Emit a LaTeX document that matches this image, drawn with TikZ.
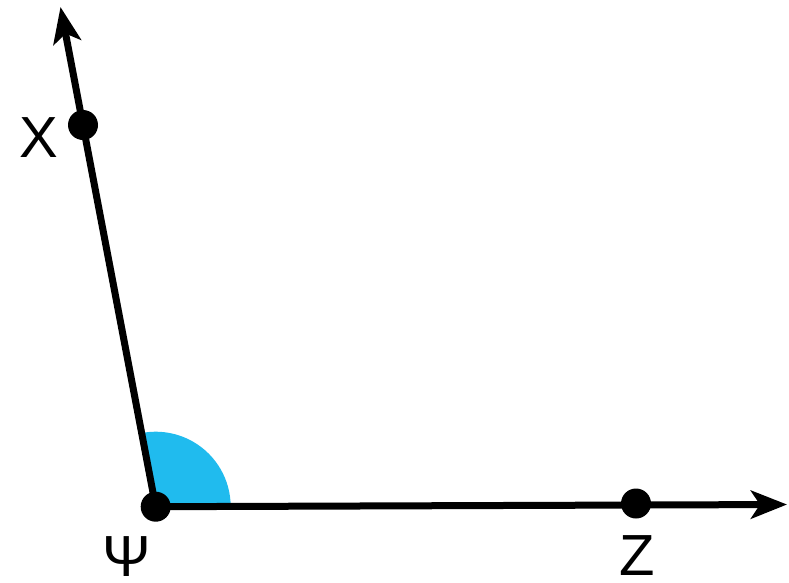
\documentclass[tikz,border=0pt]{standalone}
\usepackage{fontspec}
\setmainfont{Liberation Sans}
\usetikzlibrary{arrows.meta}
\definecolor{anglefill}{RGB}{32,187,238}
\tikzset{
  ray/.style={line width=7pt,-{Stealth[length=36pt,width=28pt,inset=9pt]}},
  dotpt/.style={circle,fill=black,inner sep=0pt,minimum size=30pt},
  lbl/.style={font=\fontsize{58}{60}\selectfont,inner sep=0pt,anchor=base,text depth=0pt,
    draw=black,line width=0.8pt,draw opacity=0}
}
\begin{document}
\begin{tikzpicture}[x=1pt,y=-1pt]
\useasboundingbox (0,0) rectangle (789,582);
\coordinate (V) at (155.7,506.7);
\coordinate (TX) at (60.5,7);
\coordinate (TZ) at (787,504.5);
% angle sector
\fill[anglefill] (V) -- ++(75,0) arc[start angle=0,end angle=-100.8,radius=75] -- cycle;
\draw[ray] (V) -- (TX);
\draw[ray] (V) -- (TZ);
\node[dotpt] (Vd) at (V) {};
\node[dotpt] (X) at (83,125) {};
\node[dotpt] (Z) at (636,503.5) {};
\node[lbl] (lx) at (39,157) {X};
\node[lbl] (lv) at (127,576) {Ψ};
\node[lbl] (lz) at (637,575) {Z};
\end{tikzpicture}
\end{document}
